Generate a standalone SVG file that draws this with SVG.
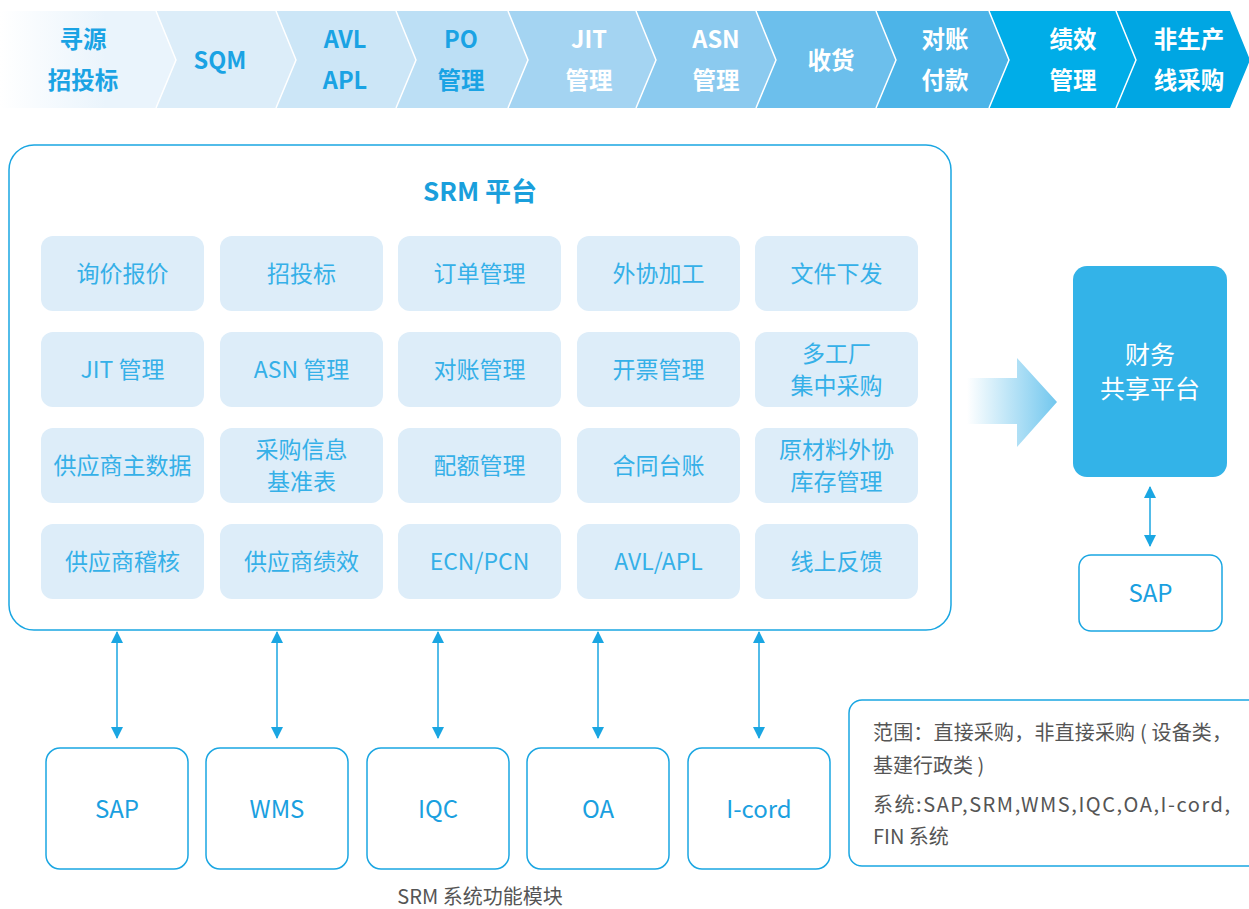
<svg xmlns="http://www.w3.org/2000/svg" width="1249" height="909" viewBox="0 0 1249 909">
<defs>
<style>
text{font-family:"Noto Sans CJK SC","Noto Sans",sans-serif;text-anchor:middle}
.bt{font-size:23.5px;font-weight:bold}
.bb{fill:#1aa3e4}
.bw{fill:#ffffff}
.sep{fill:none;stroke:#ffffff;stroke-width:1.5}
.mod rect{fill:#ddedf9}
.mod text{fill:#35b0e8;font-size:23px}
.sys rect{fill:#ffffff;stroke:#1aa6e2;stroke-width:1.5}
.sys text{fill:#1aa0e0;font-size:24px}
.conn line{stroke:#1aa6e2;stroke-width:1.5;marker-start:url(#ah);marker-end:url(#ah)}
.note{fill:#555555;font-size:20px;text-anchor:start}
</style>
<linearGradient id="g1" x1="0" y1="0" x2="1" y2="0">
<stop offset="0" stop-color="#ffffff"/><stop offset="0.6" stop-color="#eaf4fc"/><stop offset="1" stop-color="#eaf4fc"/>
</linearGradient>
<linearGradient id="ga" x1="0" y1="0" x2="1" y2="0">
<stop offset="0" stop-color="#ffffff"/><stop offset="1" stop-color="#72c7ee"/>
</linearGradient>
<marker id="ah" viewBox="0 0 12 16" refX="11" refY="6" markerWidth="12" markerHeight="16" markerUnits="userSpaceOnUse" orient="auto-start-reverse">
<path d="M0,0 L12,6 L0,12 z" fill="#1aa6e2"/>
</marker>
</defs>
<rect width="1249" height="909" fill="#ffffff"/>

<g id="banner">
<polygon points="0,11 156,11 176,60 156,108 0,108" fill="url(#g1)"/>
<polygon points="156,11 276,11 296,60 276,108 156,108 176,60" fill="#dcedf9"/>
<polygon points="276,11 396,11 416,60 396,108 276,108 296,60" fill="#cce6f7"/>
<polygon points="396,11 508,11 528,60 508,108 396,108 416,60" fill="#bcdff5"/>
<polygon points="508,11 636,11 656,60 636,108 508,108 528,60" fill="#a4d4f2"/>
<polygon points="636,11 756,11 776,60 756,108 636,108 656,60" fill="#8bcaef"/>
<polygon points="756,11 876,11 896,60 876,108 756,108 776,60" fill="#6cbfec"/>
<polygon points="876,11 989,11 1009,60 989,108 876,108 896,60" fill="#4cb4e8"/>
<polygon points="989,11 1116,11 1136,60 1116,108 989,108 1009,60" fill="#00ade8"/>
<polygon points="1116,11 1230,11 1250,60 1230,108 1116,108 1136,60" fill="#00a6e3"/>
<polyline class="sep" points="156,11 176,60 156,108"/>
<polyline class="sep" points="276,11 296,60 276,108"/>
<polyline class="sep" points="396,11 416,60 396,108"/>
<polyline class="sep" points="508,11 528,60 508,108"/>
<polyline class="sep" points="636,11 656,60 636,108"/>
<polyline class="sep" points="756,11 776,60 756,108"/>
<polyline class="sep" points="876,11 896,60 876,108"/>
<polyline class="sep" points="989,11 1009,60 989,108"/>
<polyline class="sep" points="1116,11 1136,60 1116,108"/>
<text class="bt bb" x="83" y="48">寻源</text>
<text class="bt bb" x="83" y="89">招投标</text>
<text class="bt bb" x="220" y="69">SQM</text>
<text class="bt bb" x="345" y="48">AVL</text>
<text class="bt bb" x="345" y="89">APL</text>
<text class="bt bb" x="461" y="48">PO</text>
<text class="bt bb" x="461" y="89">管理</text>
<text class="bt bw" x="589" y="48">JIT</text>
<text class="bt bw" x="589" y="89">管理</text>
<text class="bt bw" x="716" y="48">ASN</text>
<text class="bt bw" x="716" y="89">管理</text>
<text class="bt bw" x="831" y="69">收货</text>
<text class="bt bw" x="945" y="48">对账</text>
<text class="bt bw" x="945" y="89">付款</text>
<text class="bt bw" x="1073" y="48">绩效</text>
<text class="bt bw" x="1073" y="89">管理</text>
<text class="bt bw" x="1189" y="48">非生产</text>
<text class="bt bw" x="1189" y="89">线采购</text>
</g>

<g id="srm-platform">
<rect x="9" y="145" width="942" height="485" rx="25" fill="#ffffff" stroke="#1aa6e2" stroke-width="1.5"/>
<text x="480" y="201" font-size="26" font-weight="bold" fill="#1a9fdc">SRM 平台</text>
</g>

<g class="mod">
<g id="m-xunjia"><rect x="41" y="236" width="163" height="75" rx="12"/><text x="122.5" y="282">询价报价</text></g>
<g id="m-zhaotoubiao"><rect x="220" y="236" width="163" height="75" rx="12"/><text x="301.5" y="282">招投标</text></g>
<g id="m-dingdan"><rect x="398" y="236" width="163" height="75" rx="12"/><text x="479.5" y="282">订单管理</text></g>
<g id="m-waixie"><rect x="577" y="236" width="163" height="75" rx="12"/><text x="658.5" y="282">外协加工</text></g>
<g id="m-wenjian"><rect x="755" y="236" width="163" height="75" rx="12"/><text x="836.5" y="282">文件下发</text></g>

<g id="m-jit"><rect x="41" y="332" width="163" height="75" rx="12"/><text x="122.5" y="378">JIT 管理</text></g>
<g id="m-asn"><rect x="220" y="332" width="163" height="75" rx="12"/><text x="301.5" y="378">ASN 管理</text></g>
<g id="m-duizhang"><rect x="398" y="332" width="163" height="75" rx="12"/><text x="479.5" y="378">对账管理</text></g>
<g id="m-kaipiao"><rect x="577" y="332" width="163" height="75" rx="12"/><text x="658.5" y="378">开票管理</text></g>
<g id="m-duogongchang"><rect x="755" y="332" width="163" height="75" rx="12"/><text x="836.5" y="362">多工厂</text><text x="836.5" y="394">集中采购</text></g>

<g id="m-gongyingshang"><rect x="41" y="428" width="163" height="75" rx="12"/><text x="122.5" y="474">供应商主数据</text></g>
<g id="m-caigouxinxi"><rect x="220" y="428" width="163" height="75" rx="12"/><text x="301.5" y="458">采购信息</text><text x="301.5" y="490">基准表</text></g>
<g id="m-peie"><rect x="398" y="428" width="163" height="75" rx="12"/><text x="479.5" y="474">配额管理</text></g>
<g id="m-hetong"><rect x="577" y="428" width="163" height="75" rx="12"/><text x="658.5" y="474">合同台账</text></g>
<g id="m-yuancailiao"><rect x="755" y="428" width="163" height="75" rx="12"/><text x="836.5" y="458">原材料外协</text><text x="836.5" y="490">库存管理</text></g>

<g id="m-jihe"><rect x="41" y="524" width="163" height="75" rx="12"/><text x="122.5" y="570">供应商稽核</text></g>
<g id="m-jixiao"><rect x="220" y="524" width="163" height="75" rx="12"/><text x="301.5" y="570">供应商绩效</text></g>
<g id="m-ecn"><rect x="398" y="524" width="163" height="75" rx="12"/><text x="479.5" y="570">ECN/PCN</text></g>
<g id="m-avl"><rect x="577" y="524" width="163" height="75" rx="12"/><text x="658.5" y="570">AVL/APL</text></g>
<g id="m-fankui"><rect x="755" y="524" width="163" height="75" rx="12"/><text x="836.5" y="570">线上反馈</text></g>
</g>

<g id="big-arrow">
<polygon points="967,378 1017,378 1017,358 1057,402 1017,447 1017,424 967,424" fill="url(#ga)"/>
</g>

<g id="finance">
<rect x="1073" y="266" width="154" height="211" rx="14" fill="#33b3e8"/>
<text x="1150" y="364" font-size="25" fill="#ffffff">财务</text>
<text x="1150" y="398" font-size="25" fill="#ffffff">共享平台</text>
</g>

<g class="sys">
<g id="sap-fin"><rect x="1079" y="555" width="143" height="76" rx="12"/><text x="1150.5" y="602">SAP</text></g>
<g id="sap"><rect x="46" y="748" width="142" height="121" rx="14"/><text x="117" y="818">SAP</text></g>
<g id="wms"><rect x="206" y="748" width="142" height="121" rx="14"/><text x="277" y="818">WMS</text></g>
<g id="iqc"><rect x="367" y="748" width="142" height="121" rx="14"/><text x="438" y="818">IQC</text></g>
<g id="oa"><rect x="527" y="748" width="142" height="121" rx="14"/><text x="598" y="818">OA</text></g>
<g id="icord"><rect x="688" y="748" width="142" height="121" rx="14"/><text x="759" y="818">I-cord</text></g>
</g>

<g class="conn" id="connectors">
<line x1="117" y1="632" x2="117" y2="738"/>
<line x1="277" y1="632" x2="277" y2="738"/>
<line x1="438" y1="632" x2="438" y2="738"/>
<line x1="598" y1="632" x2="598" y2="738"/>
<line x1="759" y1="632" x2="759" y2="738"/>
<line x1="1150" y1="487" x2="1150" y2="546"/>
</g>

<g id="note">
<rect x="849" y="700" width="420" height="166" rx="13" fill="#ffffff" stroke="#1aa6e2" stroke-width="1.5"/>
<text class="note" x="873" y="740" textLength="359" lengthAdjust="spacing">范围：直接采购，非直接采购 ( 设备类，</text>
<text class="note" x="873" y="773">基建行政类 )</text>
<text class="note" x="873" y="812" textLength="357" lengthAdjust="spacing">系统:SAP,SRM,WMS,IQC,OA,I-cord,</text>
<text class="note" x="873" y="844">FIN 系统</text>
</g>

<text x="480" y="904" font-size="20" fill="#555555">SRM 系统功能模块</text>
</svg>
